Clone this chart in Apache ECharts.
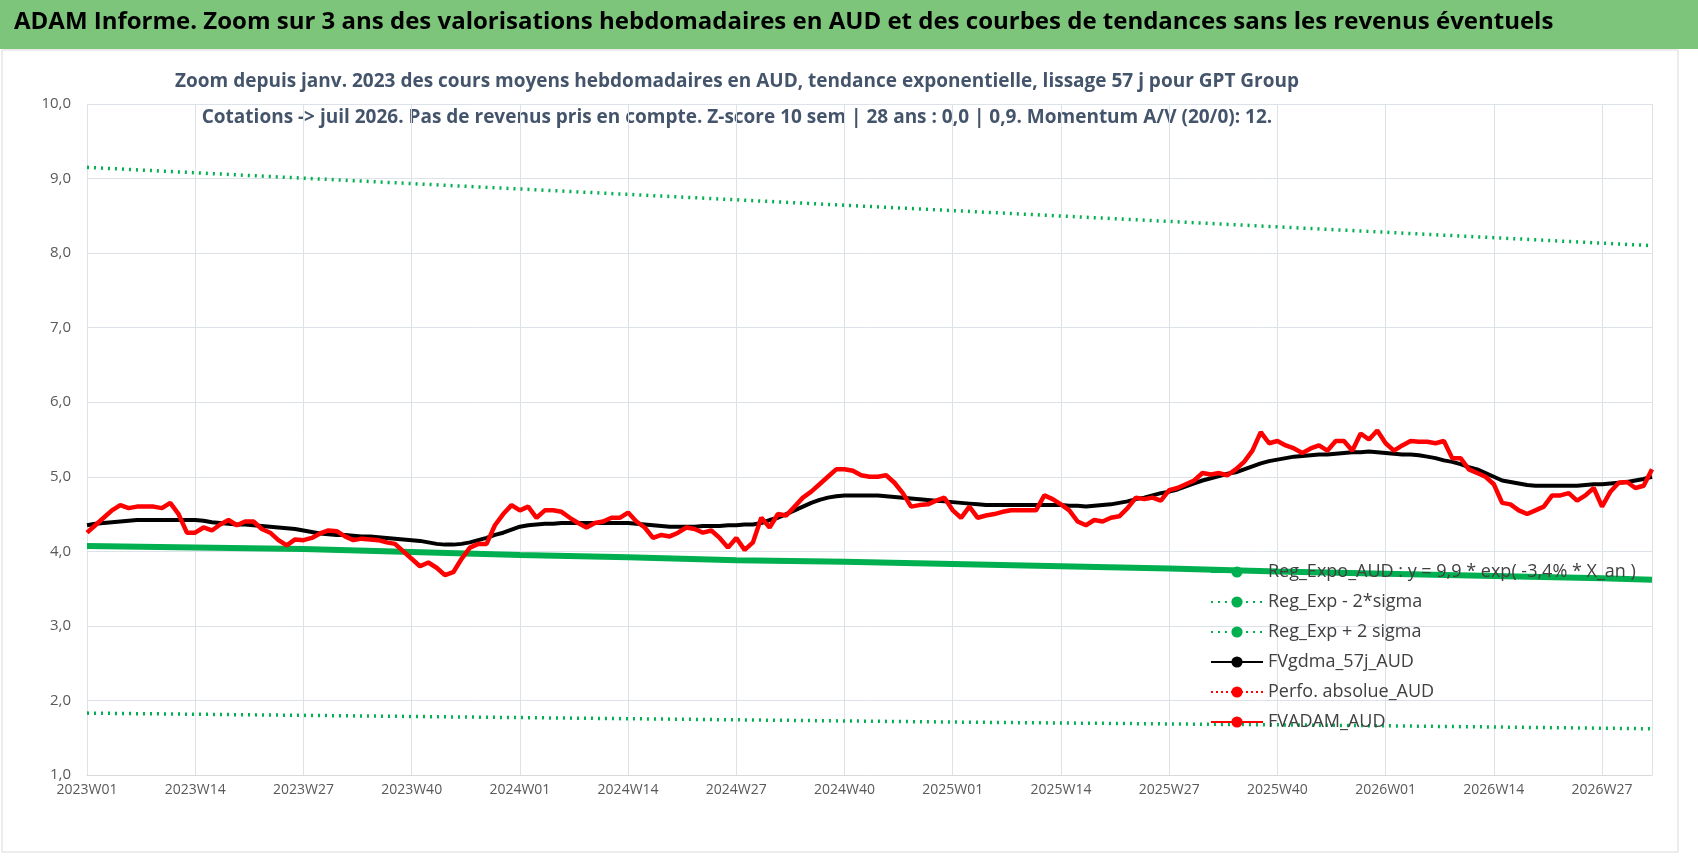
<!DOCTYPE html>
<head>
    <meta charset="utf-8">
    <title>ECharts</title>
    <style>body{margin:0;background:#fff}</style>
</head>
<body>
   <div id="main" style="width:1698px;height:856px"></div>
     <script src="https://cdn.jsdelivr.net/npm/echarts@6/dist/echarts.min.js"></script>
      <script type="text/javascript">
    var myChart=echarts.init(document.getElementById("main"));
    var font="'Liberation Sans Narrow','Open Sans',sans-serif";
    // cours hebdo (index semaine 0 = 2023W01)
    var adam=[4.25,4.35,4.45,4.55,4.62,4.58,4.6,4.6,4.6,4.58,4.65,4.5,4.25,4.25,4.32,4.28,4.36,4.42,4.35,4.4,
        4.4,4.3,4.25,4.15,4.08,4.16,4.15,4.18,4.24,4.28,4.27,4.2,4.15,4.17,4.16,4.15,4.12,4.1,4.0,3.9,
        3.8,3.85,3.78,3.68,3.72,3.9,4.05,4.1,4.1,4.35,4.5,4.62,4.55,4.6,4.45,4.55,4.55,4.53,4.45,4.38,
        4.32,4.38,4.4,4.45,4.45,4.52,4.4,4.32,4.18,4.22,4.2,4.25,4.32,4.3,4.25,4.28,4.18,4.05,4.18,4.02,
        4.12,4.45,4.32,4.5,4.48,4.6,4.72,4.8,4.9,5.0,5.1,5.1,5.08,5.02,5.0,5.0,5.02,4.92,4.78,4.6,
        4.62,4.63,4.68,4.72,4.55,4.45,4.6,4.45,4.48,4.5,4.53,4.55,4.55,4.55,4.55,4.75,4.7,4.63,4.55,4.4,
        4.35,4.42,4.4,4.45,4.47,4.58,4.72,4.7,4.72,4.68,4.82,4.85,4.9,4.95,5.05,5.03,5.05,5.02,5.1,5.2,
        5.35,5.6,5.45,5.48,5.42,5.38,5.32,5.38,5.42,5.35,5.48,5.48,5.35,5.58,5.5,5.62,5.45,5.35,5.42,5.48,
        5.47,5.47,5.45,5.48,5.25,5.25,5.1,5.05,5.0,4.9,4.65,4.63,4.55,4.5,4.55,4.6,4.75,4.75,4.78,4.68,
        4.75,4.85,4.6,4.8,4.92,4.93,4.85,4.88,5.1];
    var gdma=[4.35,4.37,4.38,4.39,4.4,4.41,4.42,4.42,4.42,4.42,4.42,4.42,4.42,4.42,4.41,4.39,4.38,4.37,4.36,4.36,
        4.35,4.34,4.33,4.32,4.31,4.3,4.28,4.26,4.24,4.23,4.22,4.22,4.21,4.2,4.2,4.19,4.18,4.17,4.16,4.15,
        4.14,4.12,4.1,4.09,4.09,4.1,4.12,4.15,4.18,4.22,4.25,4.29,4.33,4.35,4.36,4.37,4.37,4.38,4.38,4.38,
        4.38,4.38,4.38,4.38,4.38,4.38,4.37,4.36,4.35,4.34,4.33,4.33,4.33,4.33,4.34,4.34,4.34,4.35,4.35,4.36,
        4.36,4.38,4.42,4.45,4.5,4.55,4.6,4.65,4.69,4.72,4.74,4.75,4.75,4.75,4.75,4.75,4.74,4.73,4.72,4.71,
        4.7,4.69,4.68,4.67,4.66,4.65,4.64,4.63,4.62,4.62,4.62,4.62,4.62,4.62,4.62,4.62,4.62,4.62,4.61,4.61,
        4.6,4.61,4.62,4.63,4.65,4.67,4.7,4.72,4.75,4.78,4.8,4.83,4.87,4.91,4.95,4.98,5.01,5.04,5.06,5.1,
        5.14,5.18,5.21,5.23,5.25,5.27,5.28,5.29,5.3,5.3,5.31,5.32,5.33,5.33,5.34,5.33,5.32,5.31,5.3,5.3,
        5.29,5.27,5.25,5.22,5.2,5.17,5.13,5.1,5.05,5.0,4.95,4.93,4.91,4.89,4.88,4.88,4.88,4.88,4.88,4.88,
        4.89,4.9,4.9,4.91,4.92,4.93,4.95,4.97,5.0];
    var reg=[[0,4.07],[13,4.05],[26,4.03],[39,3.99],[52,3.95],[65,3.92],[78,3.88],[91,3.86],[104,3.83],
        [117,3.8],[130,3.77],[143,3.73],[156,3.7],[169,3.67],[182,3.64],[188,3.62]];
    var regMoins=[[0,1.83],[52,1.77],[104,1.71],[156,1.66],[188,1.62]];
    var regPlus=[[0,9.15],[52,8.86],[104,8.57],[156,8.28],[188,8.1]];
    function pts(arr){
        var out=[];
        for(var i=0;i<arr.length;i++){ out.push([i,arr[i]]); }
        return out;
    }
    option = {
        animation:false,
        graphic:[
            {type:'rect',shape:{x:0,y:0,width:1698,height:49},style:{fill:'#7dc57b'}},
            {type:'text',left:14,top:10,style:{text:'ADAM Informe. Zoom sur 3 ans des valorisations hebdomadaires en AUD et des courbes de tendances sans les revenus éventuels',
                font:'bold 24px '+font,fill:'#000'}},
            {type:'rect',shape:{x:2,y:50,width:1676,height:802},style:{fill:'none',stroke:'#d9d9d9',lineWidth:1}},
            {type:'text',x:737,y:72,style:{text:'Zoom depuis janv. 2023 des cours moyens hebdomadaires en AUD, tendance exponentielle, lissage 57 j pour GPT Group',
                font:'bold 19px '+font,fill:'#44546a',textAlign:'center'}},
            {type:'text',x:737,y:108,style:{text:'Cotations -> juil 2026. Pas de revenus pris en compte. Z-score 10 sem | 28 ans : 0,0 | 0,9. Momentum A/V (20/0): 12.',
                font:'bold 19px '+font,fill:'#44546a',textAlign:'center'}}
        ],
        legend:{
            orient:'vertical', left:1205, top:558, itemGap:12, itemWidth:52, itemHeight:14,
            textStyle:{fontFamily:font,fontSize:18,color:'#404040'},
            data:['Reg_Expo_AUD : y = 9,9 * exp( -3,4% * X_an )','Reg_Exp - 2*sigma','Reg_Exp + 2 sigma','FVgdma_57j_AUD','Perfo. absolue_AUD','FVADAM_AUD']
        },
        grid:{left:87, right:46, top:104, bottom:81},
        xAxis : {
            type:'value', min:0, max:188, interval:13,
            axisLine:{lineStyle:{color:'#d9d9d9'}},
            axisTick:{show:false},
            splitLine:{lineStyle:{color:'#dde1e8'}},
            axisLabel:{
                showMaxLabel:false, color:'#595959', fontFamily:font, fontSize:14,
                formatter:function(v){
                    var y=2023+Math.floor(v/52), w=v%52+1;
                    return y+'W'+(w<10?'0'+w:w);
                }
            }
        },
        yAxis : {
            type:'value', min:1, max:10, interval:1,
            axisLine:{show:false}, axisTick:{show:false},
            splitLine:{lineStyle:{color:'#dde1e8'}},
            axisLabel:{color:'#595959',fontFamily:font,fontSize:15,margin:16,
                formatter:function(v){return v.toFixed(1).replace('.',',');}}
        },
        series : [
            {name:'Reg_Expo_AUD : y = 9,9 * exp( -3,4% * X_an )',type:'line',data:reg,symbol:'none',
                lineStyle:{color:'#00b050',width:6},itemStyle:{color:'#00b050'}},
            {name:'Reg_Exp - 2*sigma',type:'line',data:regMoins,symbol:'none',
                lineStyle:{color:'#00b050',width:3.5,type:[2,5]},itemStyle:{color:'#00b050'}},
            {name:'Reg_Exp + 2 sigma',type:'line',data:regPlus,symbol:'none',
                lineStyle:{color:'#00b050',width:3.5,type:[2,5]},itemStyle:{color:'#00b050'}},
            {name:'FVgdma_57j_AUD',type:'line',data:pts(gdma),symbol:'none',
                lineStyle:{color:'#000',width:4},itemStyle:{color:'#000'}},
            {name:'Perfo. absolue_AUD',type:'line',data:[],symbol:'none',
                lineStyle:{color:'#ff0000',width:2.5,type:[2,3]},itemStyle:{color:'#ff0000'}},
            {name:'FVADAM_AUD',type:'line',data:pts(adam),symbol:'none',
                lineStyle:{color:'#ff0000',width:4.5},itemStyle:{color:'#ff0000'}}
        ]
    };
    myChart.setOption(option);
</script>
</body>
